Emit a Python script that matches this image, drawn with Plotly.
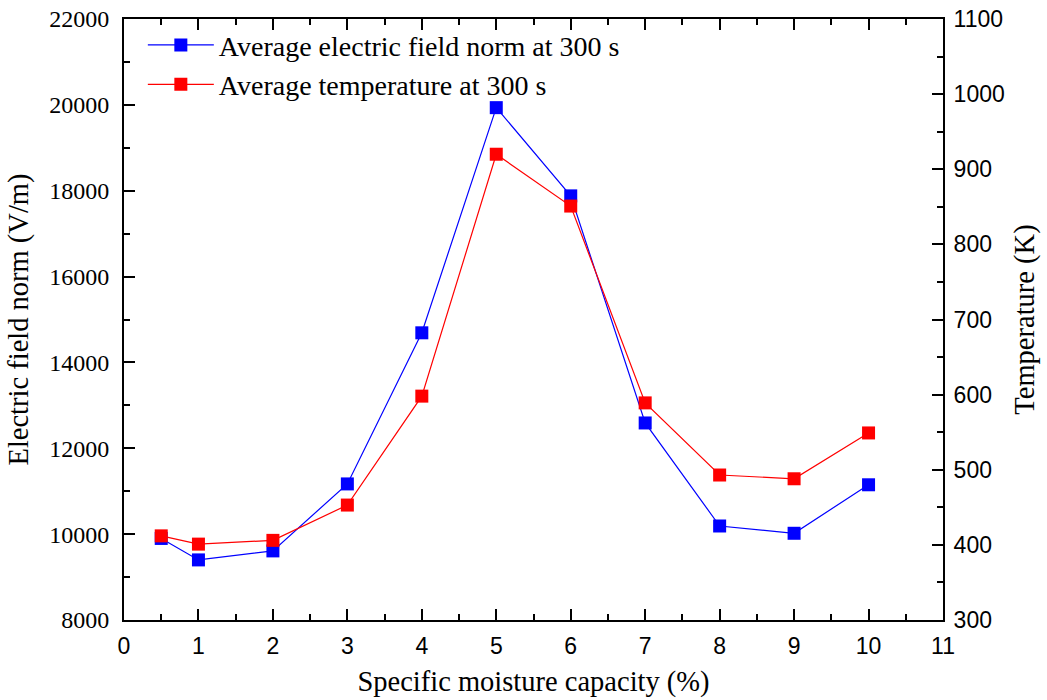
import plotly.graph_objects as go

moisture = [0.5, 1, 2, 3, 4, 5, 6, 7, 8, 9, 10]
efield = [9900, 9400, 9610, 11170, 14690, 19935, 17880, 12590, 10190, 10020, 11150]
temperature = [412, 401, 406, 453, 598, 920, 851, 589, 493, 488, 549]

x_ticks = list(range(0, 12))
y1_ticks = list(range(8000, 22001, 2000))
y2_ticks = list(range(300, 1101, 100))

serif = "Liberation Serif"
sans = "Liberation Sans"

fig = go.Figure()
fig.add_trace(go.Scatter(
    x=moisture, y=efield, name="Average electric field norm at 300 s",
    mode="lines+markers", line=dict(color="#0000ff", width=1.2),
    marker=dict(symbol="square", size=13, color="#0000ff"), yaxis="y"))
fig.add_trace(go.Scatter(
    x=moisture, y=temperature, name="Average temperature at 300 s",
    mode="lines+markers", line=dict(color="#ff0000", width=1.2),
    marker=dict(symbol="square", size=13, color="#ff0000"), yaxis="y2"))

axis_common = dict(showgrid=False, zeroline=False, showline=True, linecolor="black",
                   linewidth=2, ticks="inside", ticklen=11, tickwidth=2, tickcolor="black",
                   tickformat="d", automargin=False)

title_font = dict(family=serif, size=28.5, color="black")

fig.update_layout(
    width=1047, height=700,
    margin=dict(l=124, r=104, t=19, b=80),
    paper_bgcolor="white", plot_bgcolor="white",
    showlegend=True,
    legend=dict(x=0.023, y=0.998, xanchor="left", yanchor="top",
                font=dict(family=serif, size=28, color="black"),
                bgcolor="rgba(0,0,0,0)", tracegroupgap=0, itemwidth=66),
    xaxis=dict(range=[0, 11], tickvals=x_ticks, mirror="ticks",
               tickfont=dict(family=sans, size=23, color="black"), ticklabelstandoff=4,
               minor=dict(ticks="inside", ticklen=6, tickwidth=2, dtick=0.5, tickcolor="black"),
               title=dict(text="Specific moisture capacity (%)", standoff=13, font=title_font),
               **axis_common),
    yaxis=dict(range=[8000, 22000], tickvals=y1_ticks,
               tickfont=dict(family=serif, size=24, color="black"), ticklabelstandoff=8,
               minor=dict(ticks="inside", ticklen=6, tickwidth=2, dtick=1000, tickcolor="black"),
               title=dict(text="Electric field norm (V/m)", standoff=12, font=title_font),
               **axis_common),
    yaxis2=dict(range=[300, 1100], tickvals=y2_ticks, overlaying="y", side="right",
                tickfont=dict(family=sans, size=23, color="black"), ticklabelstandoff=4,
                minor=dict(ticks="inside", ticklen=6, tickwidth=2, dtick=50, tickcolor="black"),
                title=dict(text="Temperature (K)", standoff=10, font=title_font),
                **axis_common),
)

fig.write_html("out.html")
